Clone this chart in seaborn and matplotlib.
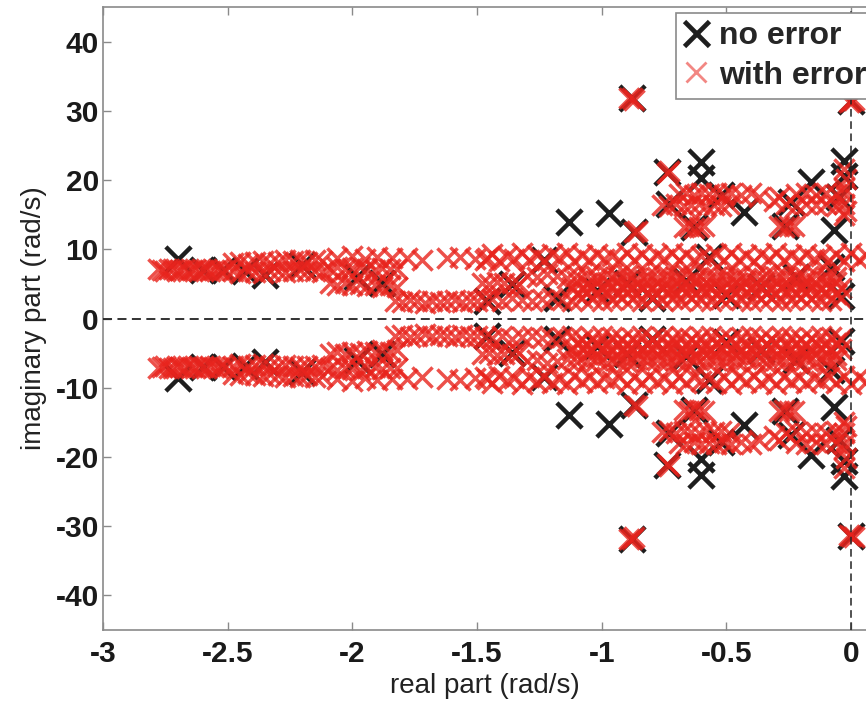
import matplotlib
matplotlib.use("Agg")
import matplotlib.pyplot as plt
from matplotlib.lines import Line2D
import numpy as np
import pandas as pd
import seaborn as sns

# Nominal poles (upper half-plane; complex conjugates mirrored below)
nominal_re = [-2.70, -2.60, -2.52, -2.43, -2.35, -2.20, -1.98, -1.88, -1.46, -1.36,
              -1.23, -1.13, -0.97, -0.88, -0.87, -0.74, -0.60, -0.60, -0.57, -0.43,
              -0.16, -0.07, -0.03, -0.03, 0.00,
              -1.18, -1.02, -0.90, -0.80, -0.66, -0.50, -0.36, -0.22, -0.08, -0.04,
              -0.73, -0.52, -0.63, -0.265, -0.24, -0.05]
nominal_im = [8.6, 7.0, 7.0, 6.8, 6.3, 7.7, 6.0, 5.2, 2.5, 5.0,
              8.4, 13.9, 15.2, 31.8, 12.5, 21.1, 22.6, 20.3, 8.9, 15.4,
              19.7, 12.8, 22.7, 20.6, 31.4,
              3.0, 4.0, 5.2, 3.0, 5.4, 3.4, 4.6, 6.0, 7.5, 3.2,
              16.6, 17.8, 13.2, 13.4, 16.8, 17.5]

# Perturbed poles (upper half-plane), grouped by cluster
band_a_re = [-2.78, -2.75, -2.72, -2.69, -2.66, -2.63, -2.60, -2.57, -2.54, -2.51,
             -2.765, -2.735, -2.705, -2.675, -2.645, -2.615, -2.585, -2.555, -2.525]
band_a_im = [7.1, 6.9, 7.2, 7.0, 6.8, 7.1, 7.0, 6.9, 7.2, 7.0,
             7.0, 7.2, 6.9, 7.1, 7.0, 6.8, 7.1, 7.0, 6.9]

band_b_re = [-2.48, -2.45, -2.42, -2.39, -2.36, -2.33, -2.30, -2.27, -2.24, -2.21, -2.18, -2.15, -2.12,
             -2.48, -2.45, -2.42, -2.39, -2.36, -2.33, -2.30, -2.27, -2.24, -2.21, -2.18, -2.15, -2.12]
band_b_im = [8.0, 8.2, 7.9, 8.1, 8.3, 8.0, 8.2, 8.4, 8.3, 8.5, 8.2, 8.4, 8.3,
             6.8, 6.6, 6.9, 6.7, 6.6, 6.8, 6.9, 6.7, 6.8, 7.0, 6.8, 6.9, 6.7]

band_c_re = [-2.09, -2.06, -2.03, -2.00, -1.97, -1.94, -1.91, -1.88, -1.85, -1.82,
             -2.09, -2.06, -2.03, -2.00, -1.97, -1.94, -1.91, -1.88, -1.85, -1.82]
band_c_im = [7.2, 7.4, 7.1, 7.3, 7.5, 7.2, 7.0, 7.3, 7.1, 7.2,
             5.1, 4.9, 5.2, 4.8, 5.0, 4.7, 4.9, 4.6, 4.8, 4.5]

band_d_re = [-2.06, -2.00, -1.95, -1.90, -1.84, -1.78, -1.72, -1.62, -1.57, -1.51, -1.46]
band_d_im = [8.8, 9.0, 8.6, 8.9, 8.7, 8.8, 8.5, 8.7, 8.9, 8.6, 8.8]

band_e_re = [-1.83, -1.80, -1.77, -1.74, -1.71, -1.68, -1.65, -1.62, -1.59, -1.56, -1.53, -1.50, -1.47]
band_e_im = [2.6, 2.4, 2.7, 2.5, 2.3, 2.6, 2.4, 2.5, 2.7, 2.4, 2.6, 2.5, 2.7]

band_f_re = [-1.44, -1.40, -1.36, -1.32, -1.28, -1.24, -1.20, -1.16, -1.12, -1.08, -1.04, -1.00,
             -0.96, -0.92, -0.88, -0.84, -0.80, -0.76, -0.72, -0.68, -0.64, -0.60, -0.56, -0.52,
             -0.48, -0.44, -0.40, -0.36, -0.32, -0.28, -0.24, -0.20, -0.16, -0.12, -0.08, -0.04]
band_f_im = [2.8, 2.6, 2.9, 2.7, 2.5, 2.8, 3.0, 2.7, 2.6, 2.9, 2.8, 2.5,
             2.7, 3.0, 2.8, 2.6, 2.9, 2.7, 2.8, 2.5, 2.9, 2.7, 2.6, 2.8,
             3.0, 2.7, 2.5, 2.8, 2.9, 2.6, 2.7, 2.9, 2.8, 2.6, 2.7, 2.9]

band_g_re = [-1.48, -1.45, -1.42, -1.39, -1.36, -1.33,
             -1.30, -1.26, -1.22, -1.18, -1.14, -1.10, -1.06, -1.02, -0.98, -0.94, -0.90, -0.86,
             -0.82, -0.78, -0.74, -0.70, -0.66, -0.62, -0.58, -0.54, -0.50, -0.46, -0.42, -0.38,
             -0.34, -0.30, -0.26, -0.22, -0.18, -0.14, -0.10, -0.06]
band_g_im = [5.2, 5.0, 5.3, 5.1, 5.2, 5.0,
             6.2, 6.0, 6.4, 6.1, 5.9, 6.3, 6.2, 6.0, 6.4, 6.1, 6.3, 5.9,
             6.2, 6.0, 6.3, 6.1, 6.4, 5.8, 6.2, 6.0, 6.3, 6.1, 5.9, 6.2,
             6.4, 6.0, 6.2, 6.1, 5.9, 6.3, 6.1, 6.0]

band_m_re = [-1.12, -1.08, -1.04, -1.00, -0.96, -0.92, -0.88, -0.84, -0.80, -0.76,
             -0.72, -0.68, -0.64, -0.60, -0.56, -0.52, -0.48, -0.44, -0.40, -0.36,
             -0.32, -0.28, -0.24, -0.20, -0.16, -0.12, -0.08, -0.04]
band_m_im = [4.5, 4.3, 4.6, 4.4, 4.7, 4.5, 4.2, 4.6, 4.4, 4.5,
             4.3, 4.7, 4.5, 4.4, 4.6, 4.3, 4.5, 4.7, 4.4, 4.5,
             4.3, 4.6, 4.4, 4.5, 4.7, 4.3, 4.5, 4.4]

band_n_re = [-1.10, -1.06, -1.02, -0.98, -0.94, -0.90, -0.86, -0.82, -0.78, -0.74,
             -0.70, -0.66, -0.62, -0.58, -0.54, -0.50, -0.46, -0.42, -0.38, -0.34,
             -0.30, -0.26, -0.22, -0.18, -0.14, -0.10, -0.06,
             -1.10, -1.06, -1.02, -0.98, -0.94, -0.90, -0.86, -0.82, -0.78, -0.74,
             -0.70, -0.66, -0.62, -0.58, -0.54, -0.50, -0.46, -0.42, -0.38, -0.34,
             -0.30, -0.26, -0.22, -0.18, -0.14, -0.10, -0.06]
band_n_im = [3.6, 3.8, 3.5, 3.7, 3.6, 3.9, 3.5, 3.7, 3.6, 3.8,
             3.5, 3.7, 3.6, 3.8, 3.6, 3.5, 3.7, 3.9, 3.6, 3.7,
             3.5, 3.8, 3.6, 3.7, 3.5, 3.8, 3.6,
             5.4, 5.2, 5.5, 5.3, 5.4, 5.6, 5.2, 5.4, 5.3, 5.5,
             5.4, 5.2, 5.5, 5.3, 5.4, 5.6, 5.3, 5.4, 5.2, 5.5,
             5.4, 5.3, 5.5, 5.4, 5.2, 5.4, 5.3]

band_h_re = [-1.47, -1.41, -1.35, -1.29, -1.23, -1.17, -1.11, -1.05, -0.99, -0.93, -0.87, -0.81, -0.75,
             -0.69, -0.63, -0.57, -0.51, -0.45, -0.39, -0.33, -0.27, -0.21, -0.15, -0.09, -0.03, 0.03,
             -1.44, -1.38, -1.32, -1.26, -1.20, -1.14, -1.08, -1.02, -0.96, -0.90, -0.84, -0.78, -0.72,
             -0.66, -0.60, -0.54, -0.48, -0.42, -0.36, -0.30, -0.24, -0.18, -0.12, -0.06, 0.00, 0.06]
band_h_im = [8.5, 8.3, 8.6, 8.4, 8.5, 8.7, 8.3, 8.5, 8.6, 8.4, 8.5, 8.3, 8.6,
             8.4, 8.5, 8.7, 8.4, 8.5, 8.3, 8.6, 8.5, 8.4, 8.6, 8.5, 8.3, 8.5,
             9.3, 9.1, 9.4, 9.2, 9.3, 9.5, 9.2, 9.3, 9.1, 9.4, 9.3, 9.2, 9.4,
             9.3, 9.1, 9.3, 9.4, 9.2, 9.3, 9.5, 9.2, 9.3, 9.1, 9.3, 9.4, 9.2]

iso_re = [-0.89, -0.87, -0.88, -0.01, 0.01, 0.00, -0.74, -0.73, -0.87, -0.86,
          -0.03, -0.02, -0.03, -0.02, -0.03]
iso_im = [31.9, 31.6, 31.8, 31.3, 31.6, 31.4, 21.0, 21.3, 12.5, 12.7,
          21.6, 20.2, 18.8, 15.6, 14.9]

blk_a_re = [-0.69, -0.66, -0.63, -0.60, -0.57, -0.54, -0.51, -0.48,
            -0.76, -0.73, -0.70, -0.67, -0.64, -0.61, -0.58, -0.55, -0.52, -0.49,
            -0.44, -0.40, -0.37]
blk_a_im = [18.0, 18.2, 17.9, 18.1, 18.0, 18.2, 17.9, 18.1,
            16.4, 16.2, 16.5, 16.3, 16.4, 16.6, 16.3, 16.4, 16.2, 16.5,
            17.9, 18.2, 17.6]
blk_b_re = [-0.67, -0.65, -0.63, -0.61, -0.59]
blk_b_im = [13.2, 13.3, 13.1, 13.2, 13.3]
blk_c_re = [-0.29, -0.27, -0.25, -0.23]
blk_c_im = [13.3, 13.2, 13.4, 13.3]
blk_d_re = [-0.22, -0.18, -0.14, -0.10, -0.06, -0.03,
            -0.26, -0.22, -0.18, -0.14, -0.10, -0.06, -0.03,
            -0.31, -0.29]
blk_d_im = [18.0, 18.2, 17.9, 18.1, 18.0, 18.2,
            16.5, 16.3, 16.6, 16.4, 16.5, 16.3, 16.6,
            17.0, 17.6]

xticks = [-3, -2.5, -2, -1.5, -1, -0.5, 0]
xtick_labels = ["-3", "-2.5", "-2", "-1.5", "-1", "-0.5", "0"]
yticks = [-40, -30, -20, -10, 0, 10, 20, 30, 40]
ytick_labels = ["-40", "-30", "-20", "-10", "0", "10", "20", "30", "40"]


def conjugate_pairs(re, im):
    re = np.asarray(re, dtype=float)
    im = np.asarray(im, dtype=float)
    return pd.DataFrame({"re": np.concatenate([re, re]),
                         "im": np.concatenate([im, -im])})


nominal = conjugate_pairs(nominal_re, nominal_im)
err_re = (band_a_re + band_b_re + band_c_re + band_d_re + band_e_re + band_f_re +
          band_g_re + band_m_re + band_n_re + band_h_re + iso_re +
          blk_a_re + blk_b_re + blk_c_re + blk_d_re)
err_im = (band_a_im + band_b_im + band_c_im + band_d_im + band_e_im + band_f_im +
          band_g_im + band_m_im + band_n_im + band_h_im + iso_im +
          blk_a_im + blk_b_im + blk_c_im + blk_d_im)
perturbed = conjugate_pairs(err_re, err_im)

sns.set_theme(style="white")
plt.rcParams["font.family"] = ["Liberation Sans", "DejaVu Sans"]

W, H = 866, 701
fig = plt.figure(figsize=(W / 100, H / 100), dpi=100)
ax = fig.add_axes([103 / W, 71 / H, (W - 103) / W, 623 / H])

black = "#1e1e1e"
red = "#e8241d"

sns.scatterplot(data=nominal, x="re", y="im", marker="x", s=330, color=black,
                linewidth=3.2, ax=ax, zorder=2, legend=False)
sns.scatterplot(data=perturbed, x="re", y="im", marker="x", s=210, color=red,
                alpha=0.8, linewidth=2.5, ax=ax, zorder=3, legend=False)

ax.axhline(0, color="#222222", lw=1.3, ls=(0, (5, 3)), zorder=4)
ax.axvline(0, color="#222222", lw=1.1, ls=(0, (5, 3)), zorder=4)

ax.set_xlim(-3, 0.06)
ax.set_ylim(-45, 45)
ax.set_xticks(xticks)
ax.set_xticklabels(xtick_labels)
ax.set_yticks(yticks)
ax.set_yticklabels(ytick_labels)
ax.tick_params(direction="in", length=6, width=1, color="#8a8a8a",
               labelcolor="#1a1a1a", labelsize=21.5,
               top=True, bottom=True, left=True, right=False)
ax.tick_params(axis="x", pad=7)
ax.tick_params(axis="y", pad=3)
for lbl in ax.get_xticklabels() + ax.get_yticklabels():
    lbl.set_fontweight("bold")

for side in ("left", "bottom", "top"):
    ax.spines[side].set_color("#8a8a8a")
    ax.spines[side].set_linewidth(1.2)
ax.spines["right"].set_visible(False)

ax.set_xlabel("real part (rad/s)", fontsize=20, color="#222222", labelpad=4)
ax.set_ylabel("imaginary part (rad/s)", fontsize=20, color="#222222", labelpad=6)

handles = [
    Line2D([], [], marker="x", ls="none", color=black, ms=18, mew=3.4, label="no error"),
    Line2D([], [], marker="x", ls="none", color=red, alpha=0.55, ms=14, mew=2.0, label="with error"),
]
leg = ax.legend(handles=handles, loc="upper left",
                bbox_to_anchor=(676 / W, 1 - 13 / H), bbox_transform=fig.transFigure,
                prop={"weight": "bold", "size": 23}, frameon=True, fancybox=False,
                edgecolor="#8a8a8a", framealpha=1, borderpad=0.25, labelspacing=0.3,
                handlelength=0.75, handletextpad=0.35, borderaxespad=0)
leg.get_frame().set_linewidth(1.2)
leg.set_zorder(6)

fig.savefig("out.png", dpi=100)
